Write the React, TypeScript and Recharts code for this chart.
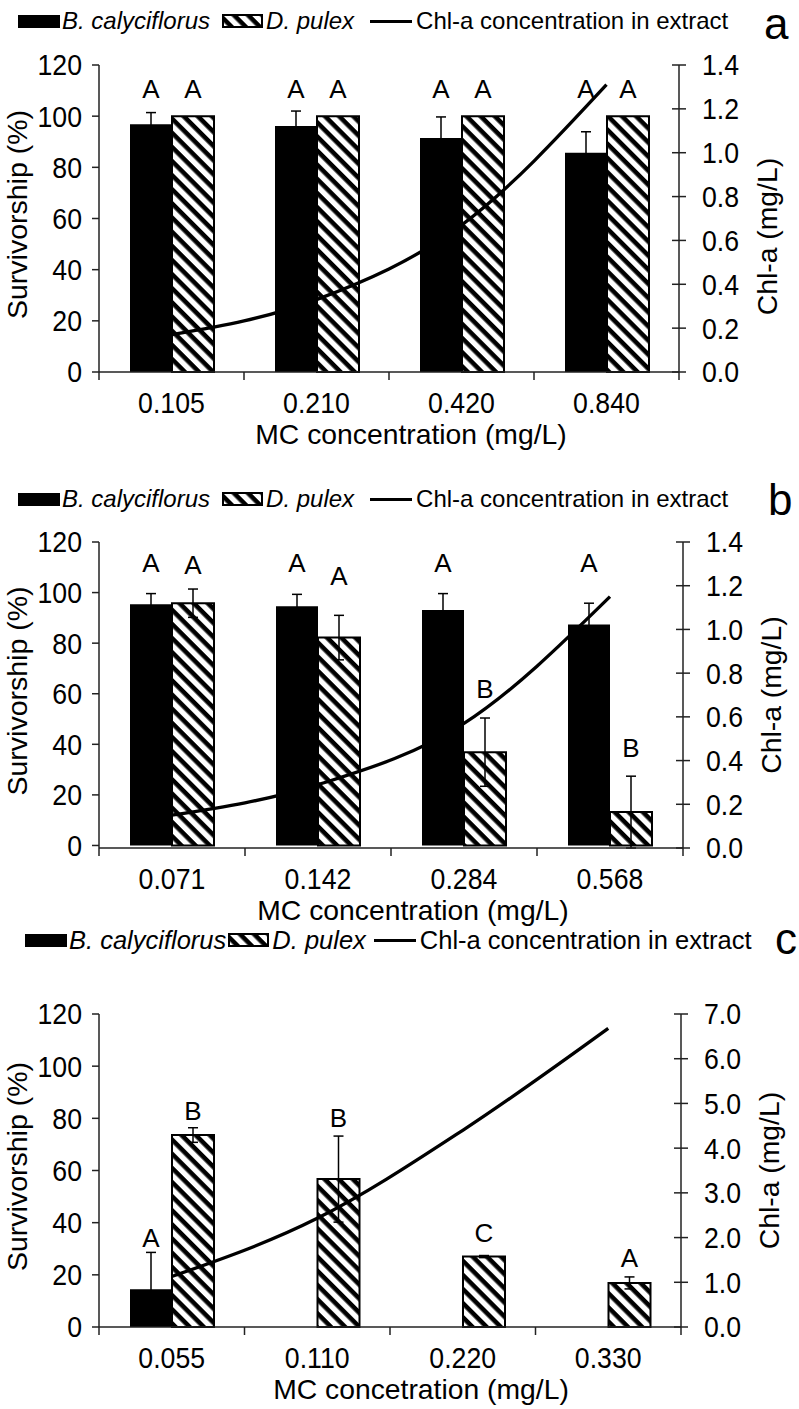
import React from "react";
import { ComposedChart, Bar, Line, XAxis, YAxis, ErrorBar, LabelList, Label } from "recharts";

const FONT = "'Liberation Sans', Arial, Helvetica, sans-serif";
const INK = "#000";
const AXIS = "#222";
const SQ = 0.92; // tick labels in the figure are slightly condensed

const survTicks = [0, 20, 40, 60, 80, 100, 120];
const chlTicksAB = [0, 0.2, 0.4, 0.6, 0.8, 1.0, 1.2, 1.4];
const chlTicksC = [0, 1, 2, 3, 4, 5, 6, 7];

// panel a
const mcA = ["0.105", "0.210", "0.420", "0.840"];
const rotiferA = [96.8, 96.2, 91.5, 85.7];
const rotiferErrA = [4.6, 5.8, 8.2, 8.2];
const daphniaA = [100, 100, 100, 100];
const daphniaErrA = [0, 0, 0, 0];
const chlA = [0.17, 0.33, 0.67, 1.31];
const rotiferLetterA = ["A", "A", "A", "A"];
const rotiferLetterAtA = [107, 107, 107, 107];
const daphniaLetterA = ["A", "A", "A", "A"];
const daphniaLetterAtA = [107, 107, 107, 107];

// panel b
const mcB = ["0.071", "0.142", "0.284", "0.568"];
const rotiferB = [95.4, 94.6, 93.1, 87.4];
const rotiferErrB = [4.2, 4.7, 6.5, 8.4];
const daphniaB = [95.8, 82.2, 36.9, 13.2];
const daphniaErrB = [5.6, 8.8, 13.5, 14.2];
const chlB = [0.15, 0.29, 0.57, 1.15];
const rotiferLetterB = ["A", "A", "A", "A"];
const rotiferLetterAtB = [108, 108, 108, 108];
const daphniaLetterB = ["A", "A", "B", "B"];
const daphniaLetterAtB = [107.5, 103, 58.4, 35.1];

// panel c
const mcC = ["0.055", "0.110", "0.220", "0.330"];
const rotiferC = [14.5, 0, 0, 0];
const rotiferErrC = [14.1, 0, 0, 0];
const daphniaC = [73.6, 56.7, 27.0, 16.9];
const daphniaErrC = [2.8, 16.5, 0.4, 2.3];
const chlC = [1.13, 2.43, 4.4, 6.68];
const rotiferLetterC = ["A", "", "", ""];
const rotiferLetterAtC = [30.6, 0, 0, 0];
const daphniaLetterC = ["B", "B", "C", "A"];
const daphniaLetterAtC = [79.3, 76.6, 32.5, 22.9];

type Panel = {
  id: string;
  tag: string;
  top: number;
  height: number;
  plotTop: number;
  plotBottom: number;
  rightWidth: number;
  mc: string[];
  rotifer: number[];
  rotiferErr: number[];
  daphnia: number[];
  daphniaErr: number[];
  chl: number[];
  rotiferLetter: string[];
  rotiferLetterAt: number[];
  daphniaLetter: string[];
  daphniaLetterAt: number[];
  chlMax: number;
  chlTicks: number[];
  xTitle: string;
  xTitleDx: number;
  rightTitleDy: number;
  legendY: number;
  legendX: number;
  legendSize: number;
  gap1: number;
  gap2: number;
  tagX: number;
  tagY: number;
};

const panels: Panel[] = [
  {
    id: "a", tag: "a", top: 0, height: 462, plotTop: 65, plotBottom: 372, rightWidth: 120,
    mc: mcA, rotifer: rotiferA, rotiferErr: rotiferErrA, daphnia: daphniaA, daphniaErr: daphniaErrA, chl: chlA,
    rotiferLetter: rotiferLetterA, rotiferLetterAt: rotiferLetterAtA,
    daphniaLetter: daphniaLetterA, daphniaLetterAt: daphniaLetterAtA,
    chlMax: 1.4, chlTicks: chlTicksAB, xTitle: "MC concentration (mg/L)", xTitleDx: 22, rightTitleDy: 18,
    legendY: 21, legendX: 18, legendSize: 24, gap1: 12, gap2: 16, tagX: 764, tagY: 39,
  },
  {
    id: "b", tag: "b", top: 477, height: 462, plotTop: 65, plotBottom: 371, rightWidth: 116,
    mc: mcB, rotifer: rotiferB, rotiferErr: rotiferErrB, daphnia: daphniaB, daphniaErr: daphniaErrB, chl: chlB,
    rotiferLetter: rotiferLetterB, rotiferLetterAt: rotiferLetterAtB,
    daphniaLetter: daphniaLetterB, daphniaLetterAt: daphniaLetterAtB,
    chlMax: 1.4, chlTicks: chlTicksAB, xTitle: "MC concentration (mg/L)", xTitleDx: 22, rightTitleDy: 0,
    legendY: 22, legendX: 18, legendSize: 24, gap1: 12, gap2: 16, tagX: 768, tagY: 38,
  },
  {
    id: "c", tag: "c", top: 922, height: 487, plotTop: 92, plotBottom: 405, rightWidth: 118,
    mc: mcC, rotifer: rotiferC, rotiferErr: rotiferErrC, daphnia: daphniaC, daphniaErr: daphniaErrC, chl: chlC,
    rotiferLetter: rotiferLetterC, rotiferLetterAt: rotiferLetterAtC,
    daphniaLetter: daphniaLetterC, daphniaLetterAt: daphniaLetterAtC,
    chlMax: 7, chlTicks: chlTicksC, xTitle: "MC concetration (mg/L)", xTitleDx: 31, rightTitleDy: 0,
    legendY: 18, legendX: 25, legendSize: 25.5, gap1: 2, gap2: 8, tagX: 775, tagY: 32,
  },
];

const Hatch = ({ id }: { id: string }) => (
  <pattern id={id} patternUnits="userSpaceOnUse" width="10" height="10" patternTransform="rotate(45)">
    <rect width="10" height="10" fill="#fff" />
    <rect width="10" height="4.6" fill="#000" />
  </pattern>
);

function letterContent(values: number[], letters: string[], at: number[]) {
  return (props: any) => {
    const i = props.index;
    const letter = letters[i];
    const v = values[i];
    if (!letter || !v) return null;
    const vb = props.viewBox || props;
    const { x, y, width, height } = vb;
    const ppu = height / v;
    const ly = y + height - at[i] * ppu;
    return (
      <text x={x + width / 2} y={ly} textAnchor="middle" fontFamily={FONT} fontSize={26} fill={INK}>
        {letter}
      </text>
    );
  };
}

function makeXTick(count: number) {
  return (props: any) => {
    const { x, y, payload, index } = props;
    const half = payload && payload.offset ? payload.offset : 72.5;
    return (
      <g>
        <line x1={x - half} x2={x - half} y1={y} y2={y + 8} stroke={AXIS} strokeWidth={1.5} />
        {index === count - 1 && (
          <line x1={x + half} x2={x + half} y1={y} y2={y + 8} stroke={AXIS} strokeWidth={1.5} />
        )}
        <text
          transform={`translate(${x},${y + 41}) scale(${SQ},1)`}
          textAnchor="middle"
          fontFamily={FONT}
          fontSize={29}
          fill={INK}
        >
          {payload.value}
        </text>
      </g>
    );
  };
}

const LeftTick = (props: any) => {
  const { x, y, payload } = props;
  return (
    <text
      transform={`translate(${x},${y}) scale(${SQ},1)`}
      dy="0.36em"
      textAnchor="end"
      fontFamily={FONT}
      fontSize={29}
      fill={INK}
    >
      {payload.value}
    </text>
  );
};

const RightTick = (props: any) => {
  const { x, y, payload } = props;
  const axisX = x - 23;
  return (
    <g>
      <line x1={axisX - 7} x2={axisX} y1={y} y2={y} stroke={AXIS} strokeWidth={1.5} />
      <text
        transform={`translate(${x},${y}) scale(${SQ},1)`}
        dy="0.36em"
        textAnchor="start"
        fontFamily={FONT}
        fontSize={29}
        fill={INK}
      >
        {Number(payload.value).toFixed(1)}
      </text>
    </g>
  );
};

const PanelLegend = ({ p }: { p: Panel }) => (
  <div
    style={{
      position: "absolute",
      left: p.legendX,
      top: p.legendY - 16,
      height: 32,
      display: "flex",
      alignItems: "center",
      whiteSpace: "nowrap",
      fontFamily: FONT,
      fontSize: p.legendSize,
      color: INK,
    }}
  >
    <span style={{ display: "inline-block", width: 42, height: 13, background: INK, marginRight: 2 }} />
    <span style={{ fontStyle: "italic", marginRight: p.gap1 }}>B. calyciflorus</span>
    <svg width={41} height={14} style={{ marginRight: 3 }}>
      <defs>
        <Hatch id={`hatch-leg-${p.id}`} />
      </defs>
      <rect x={1} y={1} width={39} height={12} fill={`url(#hatch-leg-${p.id})`} stroke={INK} strokeWidth={2} />
    </svg>
    <span style={{ fontStyle: "italic", marginRight: p.gap2 }}>D. pulex</span>
    <span style={{ display: "inline-block", width: 42, height: 3, background: INK, marginRight: 4 }} />
    <span>Chl-a concentration in extract</span>
  </div>
);

const PanelChart = ({ p }: { p: Panel }) => {
  const data = p.mc.map((mc, i) => ({
    mc,
    rotifer: p.rotifer[i],
    rotiferErr: p.rotiferErr[i],
    daphnia: p.daphnia[i],
    daphniaErr: p.daphniaErr[i],
    chl: p.chl[i],
    rotiferLetter: p.rotiferLetter[i],
    daphniaLetter: p.daphniaLetter[i],
  }));
  const hatchId = `hatch-${p.id}`;
  return (
    <div style={{ position: "absolute", left: 0, top: p.top, width: 799, height: p.height }}>
      <ComposedChart
        width={799}
        height={p.height}
        data={data}
        margin={{ top: p.plotTop, right: 0, bottom: 0, left: 0 }}
        barGap={0}
      >
        <defs>
          <Hatch id={hatchId} />
        </defs>
        <XAxis
          dataKey="mc"
          height={p.height - p.plotBottom}
          interval={0}
          tickSize={0}
          tickMargin={0}
          tickLine={false}
          axisLine={{ stroke: AXIS, strokeWidth: 1.5 }}
          tick={makeXTick(p.mc.length)}
        >
          <Label
            content={({ viewBox }: any) => (
              <text
                x={viewBox.x + viewBox.width / 2 + p.xTitleDx}
                y={viewBox.y + 72}
                textAnchor="middle"
                fontFamily={FONT}
                fontSize={28.3}
                fill={INK}
              >
                {p.xTitle}
              </text>
            )}
          />
        </XAxis>
        <YAxis
          yAxisId="left"
          width={99}
          domain={[0, 120]}
          ticks={survTicks}
          interval={0}
          tickSize={7}
          tickMargin={10}
          tickLine={{ stroke: AXIS, strokeWidth: 1.5 }}
          axisLine={{ stroke: AXIS, strokeWidth: 1.5 }}
          tick={<LeftTick />}
        >
          <Label
            content={({ viewBox }: any) => (
              <text
                transform={`translate(27,${viewBox.y + viewBox.height / 2 - 4}) rotate(-90)`}
                textAnchor="middle"
                fontFamily={FONT}
                fontSize={28.5}
                fill={INK}
              >
                Survivorship (%)
              </text>
            )}
          />
        </YAxis>
        <YAxis
          yAxisId="right"
          orientation="right"
          width={p.rightWidth}
          domain={[0, p.chlMax]}
          ticks={p.chlTicks}
          interval={0}
          tickSize={7}
          tickMargin={16}
          tickLine={{ stroke: AXIS, strokeWidth: 1.5 }}
          axisLine={{ stroke: AXIS, strokeWidth: 1.5 }}
          tick={<RightTick />}
        >
          <Label
            content={({ viewBox }: any) => (
              <text
                transform={`translate(${viewBox.x + 98},${viewBox.y + viewBox.height / 2 + p.rightTitleDy}) rotate(-90)`}
                textAnchor="middle"
                fontFamily={FONT}
                fontSize={28.3}
                fill={INK}
              >
                Chl-a (mg/L)
              </text>
            )}
          />
        </YAxis>
        <Bar yAxisId="left" dataKey="rotifer" fill={INK} barSize={42} isAnimationActive={false}>
          <ErrorBar dataKey="rotiferErr" width={5} stroke={INK} strokeWidth={1.5} />
          <LabelList dataKey="rotiferLetter" content={letterContent(p.rotifer, p.rotiferLetter, p.rotiferLetterAt)} />
        </Bar>
        <Bar
          yAxisId="left"
          dataKey="daphnia"
          fill={`url(#${hatchId})`}
          stroke={INK}
          strokeWidth={2}
          barSize={42}
          isAnimationActive={false}
        >
          <ErrorBar dataKey="daphniaErr" width={5} stroke={INK} strokeWidth={1.5} />
          <LabelList dataKey="daphniaLetter" content={letterContent(p.daphnia, p.daphniaLetter, p.daphniaLetterAt)} />
        </Bar>
        <Line
          yAxisId="right"
          dataKey="chl"
          type="monotone"
          stroke={INK}
          strokeWidth={3.3}
          dot={false}
          isAnimationActive={false}
        />
      </ComposedChart>
      <PanelLegend p={p} />
      <div
        style={{
          position: "absolute",
          left: p.tagX,
          top: p.tagY - 37,
          fontFamily: FONT,
          fontSize: 44,
          lineHeight: "44px",
          color: INK,
        }}
      >
        {p.tag}
      </div>
    </div>
  );
};

export default function App() {
  return (
    <div
      style={{
        position: "absolute",
        left: 0,
        top: 0,
        width: 799,
        height: 1409,
        background: "#fff",
        overflow: "hidden",
      }}
    >
      {panels.map((p) => (
        <PanelChart key={p.id} p={p} />
      ))}
    </div>
  );
}
